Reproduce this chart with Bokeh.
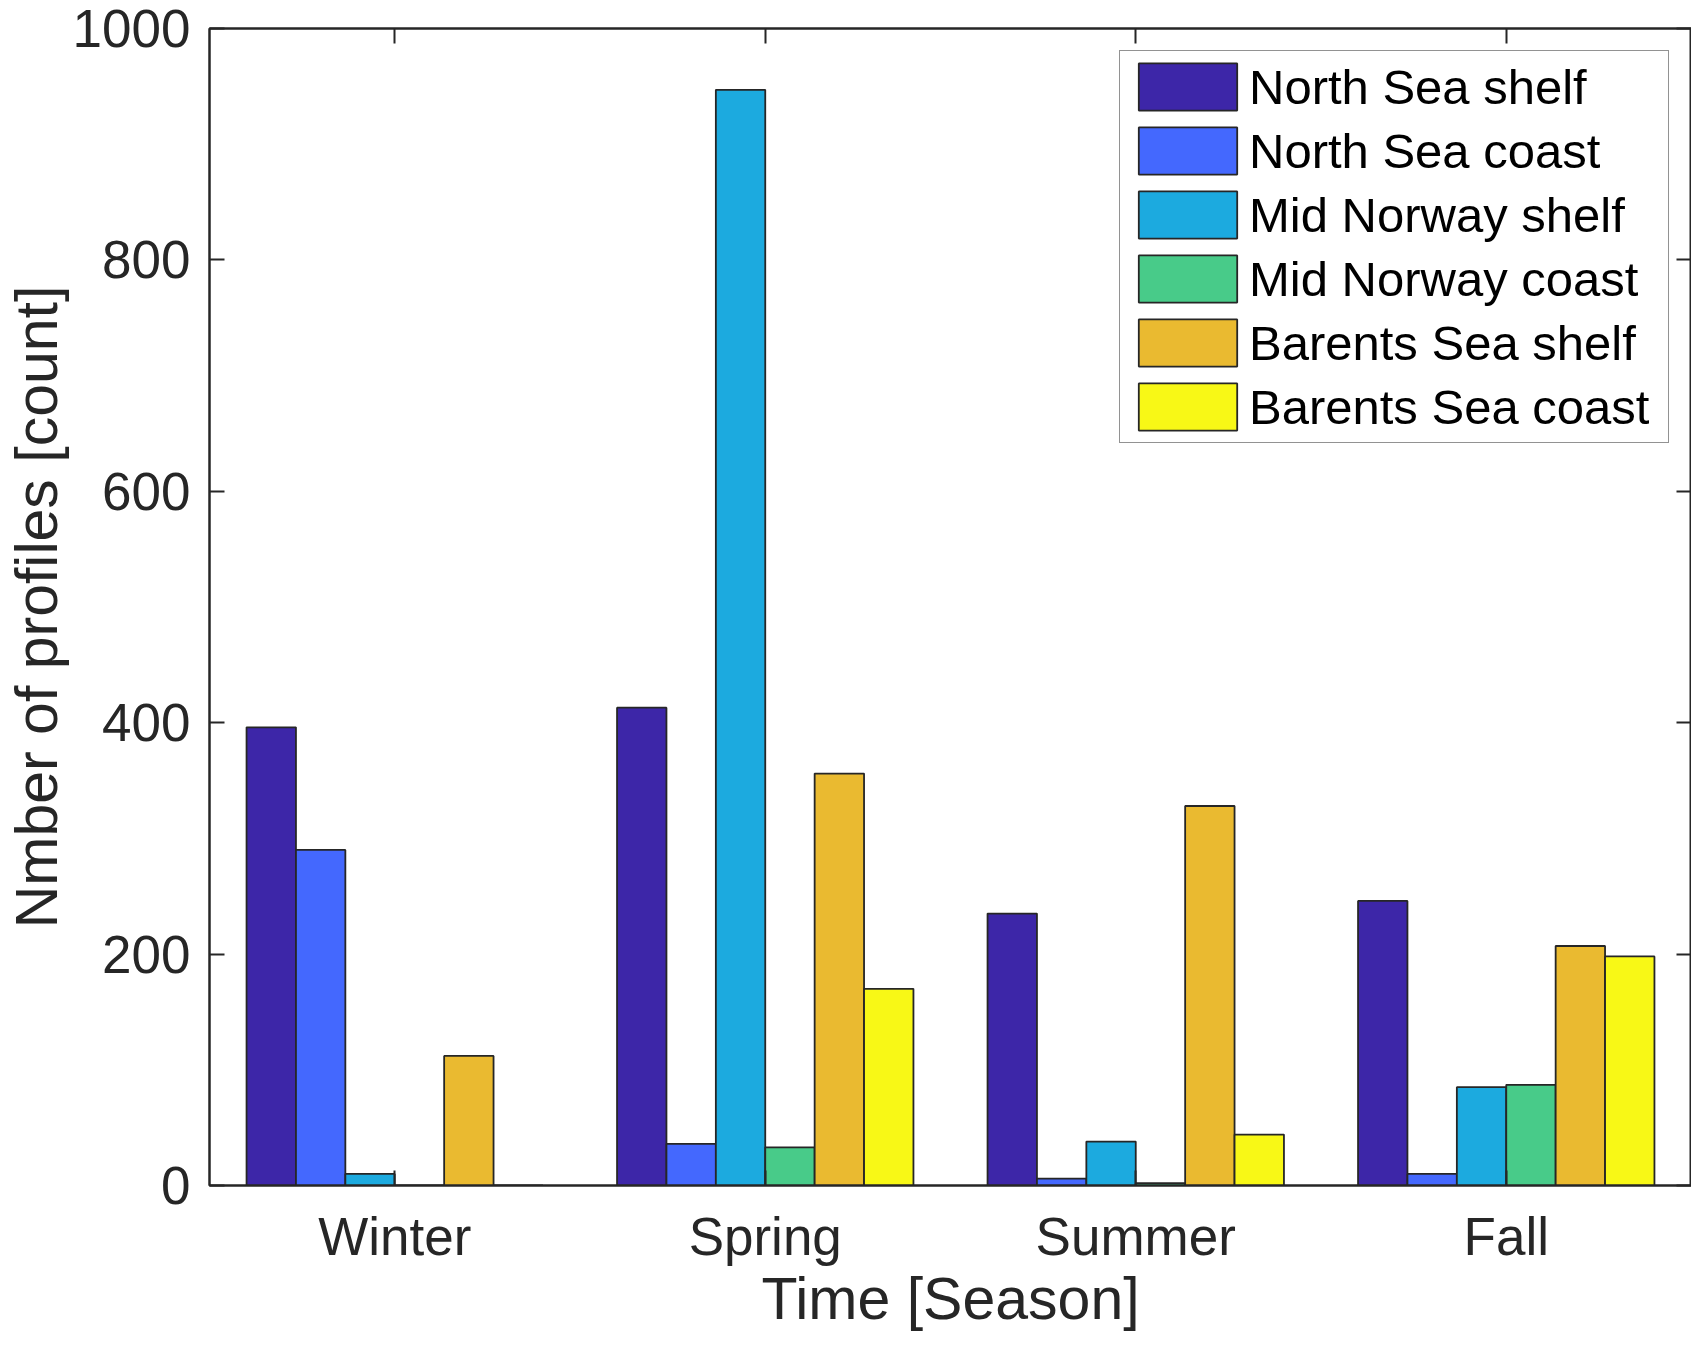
from bokeh.plotting import figure
from bokeh.models import (Range1d, ColumnDataSource, FixedTicker,
                          LinearAxis, CustomJSTickFormatter)
from bokeh.embed import file_html
from bokeh.resources import INLINE

seasons = ["Winter", "Spring", "Summer", "Fall"]
series_names = ["North Sea shelf", "North Sea coast", "Mid Norway shelf",
                "Mid Norway coast", "Barents Sea shelf", "Barents Sea coast"]
north_sea_shelf = [396, 413, 235, 246]
north_sea_coast = [290, 36, 6, 10]
mid_norway_shelf = [10, 947, 38, 85]
mid_norway_coast = [0, 33, 2, 87]
barents_sea_shelf = [112, 356, 328, 207]
barents_sea_coast = [0, 170, 44, 198]
y_ticks = [0, 200, 400, 600, 800, 1000]

colors = ["#3D26A8", "#4468FE", "#1CAADF", "#48CB89", "#EABA30", "#F8F816"]
values = [north_sea_shelf, north_sea_coast, mid_norway_shelf,
          mid_norway_coast, barents_sea_shelf, barents_sea_coast]

FONT = "Liberation Sans"
AX = "#262626"

positions = list(range(1, len(seasons) + 1))

p = figure(width=1691, height=1334,
           x_range=Range1d(0.5, len(seasons) + 0.5),
           y_range=Range1d(0, 1000),
           output_backend="svg", toolbar_location=None,
           min_border_left=190, min_border_right=0,
           min_border_top=28, min_border_bottom=120)

n = len(values)
bw = 0.8 / n
for i, v in enumerate(values):
    off = -0.4 + bw * (i + 0.5)
    src = ColumnDataSource({"x": [c + off for c in positions], "top": v})
    p.vbar(x="x", top="top", bottom=0, width=bw, source=src,
           fill_color=colors[i], line_color="#262626",
           line_width=1.8, legend_label=series_names[i])

p.xgrid.visible = False
p.ygrid.visible = False
p.outline_line_color = AX
p.outline_line_width = 2
p.background_fill_color = "white"
p.border_fill_color = "white"

def style_axis(ax, labels=True):
    ax.axis_line_color = AX
    ax.axis_line_width = 2
    ax.major_tick_line_color = AX
    ax.major_tick_line_width = 2
    ax.major_tick_in = 15
    ax.major_tick_out = 0
    ax.minor_tick_line_color = None
    if labels:
        ax.major_label_text_font = FONT
        ax.major_label_text_font_size = "53px"
        ax.major_label_text_color = AX
    else:
        ax.formatter = CustomJSTickFormatter(code="return '';")
        ax.major_label_standoff = 0
        ax.axis_label_standoff = 0
        ax.major_label_text_line_height = 0

xa = p.xaxis[0]
style_axis(xa)
xa.ticker = FixedTicker(ticks=positions)
xa.major_label_overrides = {c: s for c, s in zip(positions, seasons)}
xa.axis_label = "Time [Season]"
xa.axis_label_text_font = FONT
xa.axis_label_text_font_size = "59px"
xa.axis_label_text_font_style = "normal"
xa.axis_label_text_color = AX
xa.major_label_text_line_height = 1.0
xa.axis_label_text_line_height = 1.0
xa.major_label_standoff = 21
xa.axis_label_standoff = -3

ya = p.yaxis[0]
style_axis(ya)
ya.ticker = FixedTicker(ticks=y_ticks)
ya.axis_label = "Nmber of profiles [count]"
ya.axis_label_text_font = FONT
ya.axis_label_text_font_size = "59px"
ya.axis_label_text_font_style = "normal"
ya.axis_label_text_color = AX
ya.major_label_standoff = 19
ya.axis_label_standoff = 0

ra = LinearAxis(ticker=FixedTicker(ticks=y_ticks))
style_axis(ra, labels=False)
p.add_layout(ra, "right")

ta = LinearAxis(ticker=FixedTicker(ticks=positions))
style_axis(ta, labels=False)
p.add_layout(ta, "above")

lg = p.legend[0]
lg.location = "top_right"
lg.margin = 22
lg.padding = 6
lg.spacing = 5
lg.glyph_width = 123
lg.glyph_height = 59
lg.label_height = 59
lg.label_width = 413
lg.label_standoff = 0
lg.label_text_font = FONT
lg.label_text_font_size = "49px"
lg.label_text_color = "black"
lg.border_line_color = AX
lg.border_line_width = 1.5
lg.background_fill_color = "white"
lg.background_fill_alpha = 1

open("out.html", "w").write(file_html(p, INLINE))
